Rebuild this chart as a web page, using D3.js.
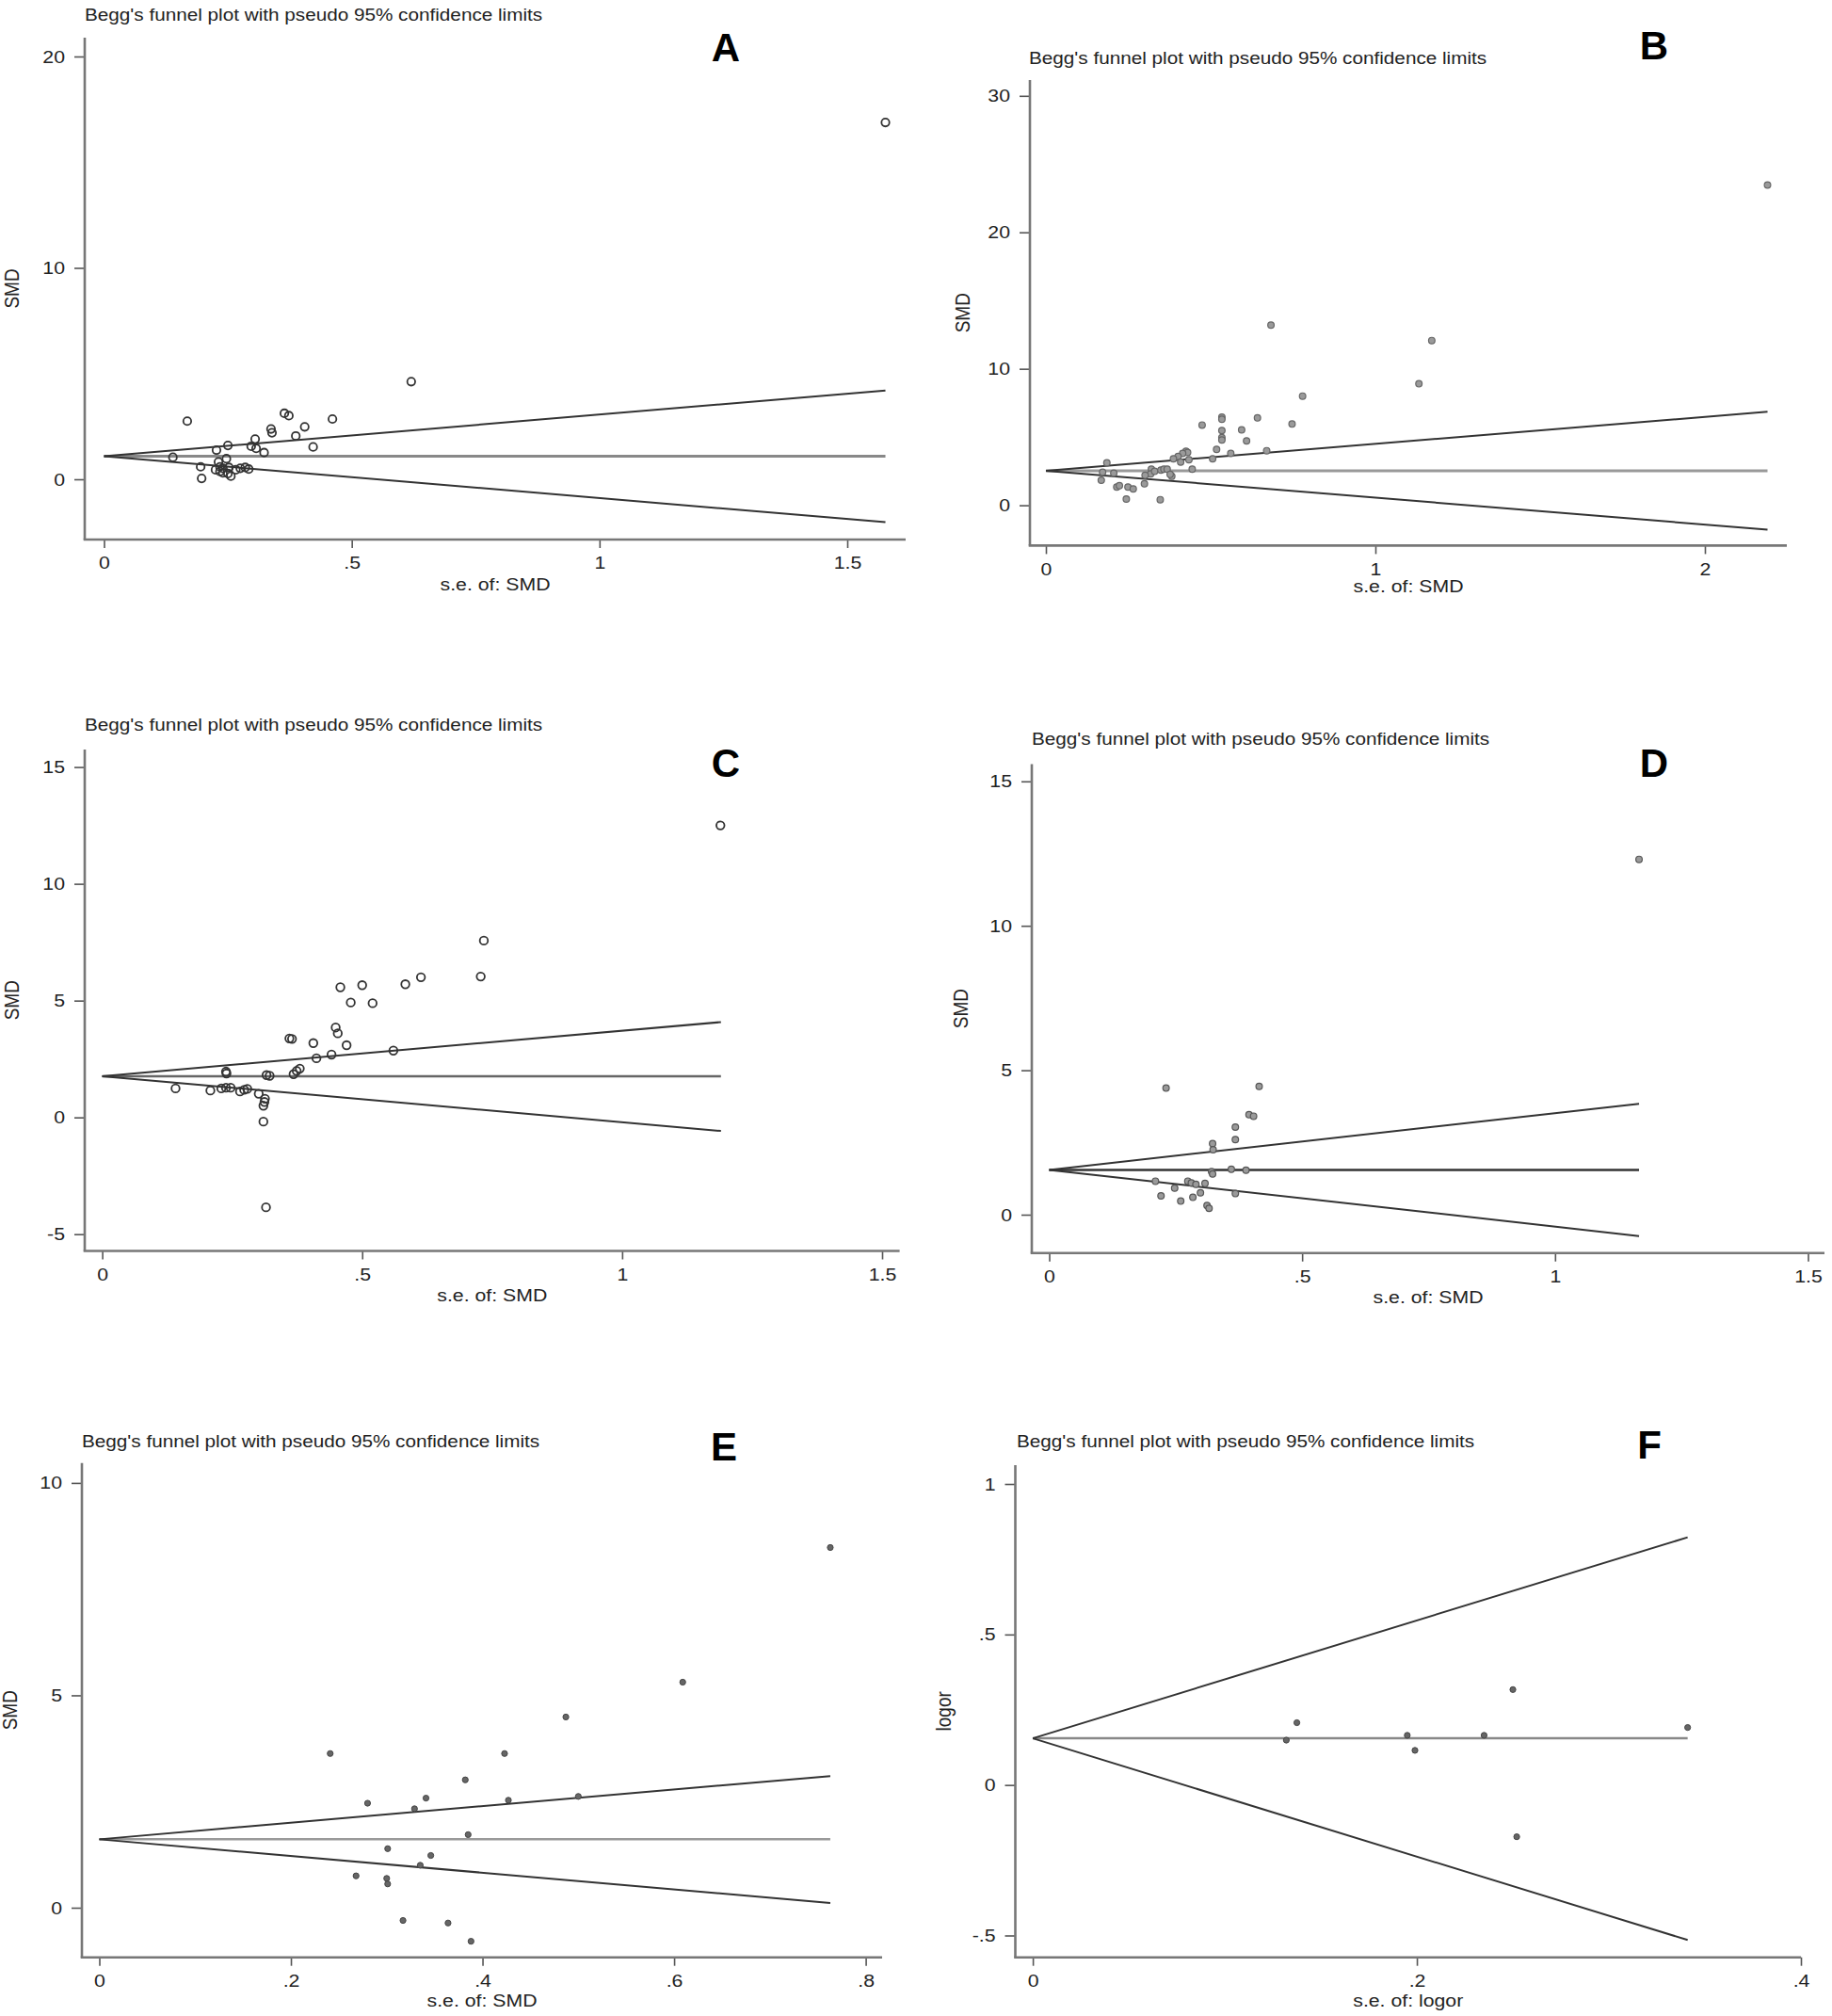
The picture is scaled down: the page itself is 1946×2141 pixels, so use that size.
<!DOCTYPE html>
<html><head><meta charset="utf-8">
<script src="https://cdn.jsdelivr.net/npm/d3@7"></script>
<style>
body{margin:0;background:#fff}
svg text{font-family:"Liberation Sans",Arial,Helvetica,sans-serif;fill:#222}
</style></head><body>
<svg id="c" width="1946" height="2141"></svg>
<script>
// ---------------- DATA ----------------
const panelLetters = ["A","B","C","D","E","F"];
const titleText = "Begg's funnel plot with pseudo 95% confidence limits";
const xTitles = ["s.e. of: SMD","s.e. of: SMD","s.e. of: SMD","s.e. of: SMD","s.e. of: SMD","s.e. of: logor"];
const yTitles = ["SMD","SMD","SMD","SMD","SMD","logor"];

// [s.e., estimate]
const pointsA = [[0.168,2.75],[0.62,4.62],[1.577,16.88],[0.364,3.12],[0.373,3.01],[0.461,2.85],[0.405,2.48],[0.337,2.38],[0.339,2.2],[0.387,2.05],[0.305,1.9],[0.422,1.53],[0.25,1.6],[0.227,1.38],[0.297,1.56],[0.307,1.46],[0.323,1.26],[0.139,1.04],[0.195,0.59],[0.197,0.04],[0.231,0.82],[0.234,0.59],[0.234,0.37],[0.24,0.3],[0.25,0.27],[0.247,0.97],[0.256,0.15],[0.266,0.45],[0.275,0.52],[0.285,0.56],[0.292,0.48],[0.225,0.45],[0.24,0.52],[0.252,0.56]];
const pointsB = [[2.19,23.47],[0.683,13.2],[1.171,12.07],[1.132,8.9],[0.779,8.0],[0.534,6.45],[0.534,6.3],[0.642,6.4],[0.474,5.88],[0.747,5.95],[0.534,5.48],[0.594,5.53],[0.534,4.95],[0.534,4.79],[0.609,4.72],[0.518,4.1],[0.561,3.8],[0.67,4.0],[0.506,3.41],[0.425,3.96],[0.43,3.87],[0.415,3.8],[0.401,3.57],[0.387,3.41],[0.409,3.16],[0.434,3.34],[0.444,2.65],[0.185,3.11],[0.168,1.84],[0.215,1.34],[0.223,1.43],[0.249,1.34],[0.265,1.2],[0.244,0.46],[0.299,1.57],[0.347,0.41],[0.32,2.65],[0.318,2.3],[0.33,2.49],[0.349,2.58],[0.358,2.65],[0.368,2.65],[0.382,2.12],[0.377,2.26],[0.301,2.19],[0.206,2.35],[0.172,2.42]];
const pointsC = [[1.189,12.5],[0.734,7.57],[0.728,6.03],[0.613,6.0],[0.583,5.7],[0.5,5.66],[0.458,5.57],[0.478,4.92],[0.52,4.89],[0.36,3.38],[0.365,3.36],[0.406,3.18],[0.449,3.85],[0.453,3.6],[0.47,3.09],[0.56,2.86],[0.441,2.69],[0.412,2.53],[0.38,2.09],[0.374,1.99],[0.368,1.85],[0.238,1.96],[0.239,1.88],[0.316,1.81],[0.322,1.78],[0.141,1.24],[0.208,1.15],[0.229,1.24],[0.238,1.27],[0.247,1.27],[0.265,1.11],[0.273,1.18],[0.279,1.22],[0.301,1.01],[0.313,0.8],[0.312,0.66],[0.31,0.5],[0.31,-0.18],[0.315,-3.85]];
const pointsD = [[1.166,12.3],[0.231,4.38],[0.415,4.44],[0.395,3.46],[0.404,3.41],[0.368,3.03],[0.368,2.6],[0.323,2.46],[0.324,2.25],[0.321,1.49],[0.323,1.41],[0.36,1.57],[0.389,1.54],[0.21,1.16],[0.221,0.65],[0.248,0.92],[0.26,0.47],[0.274,1.16],[0.281,1.1],[0.29,1.05],[0.308,1.08],[0.299,0.76],[0.284,0.6],[0.312,0.32],[0.316,0.22],[0.368,0.73]];
const pointsE = [[0.763,8.48],[0.609,5.31],[0.487,4.49],[0.241,3.63],[0.423,3.63],[0.382,3.01],[0.28,2.46],[0.341,2.58],[0.329,2.33],[0.427,2.53],[0.5,2.62],[0.385,1.72],[0.301,1.39],[0.346,1.23],[0.335,1.0],[0.268,0.75],[0.3,0.69],[0.301,0.56],[0.317,-0.3],[0.364,-0.36],[0.388,-0.79]];
const pointsF = [[0.132,0.149],[0.1375,0.207],[0.195,0.165],[0.199,0.115],[0.235,0.165],[0.25,0.317],[0.252,-0.172],[0.341,0.191]];

// pooled estimate, largest s.e., and the pseudo 95% limits read at that s.e.
const pooled   = [1.09, 2.53, 1.76, 1.55, 1.61, 0.155];
const seMax    = [1.577, 2.19, 1.19, 1.166, 0.763, 0.341];
const upperEnd = [4.2, 6.85, 4.08, 3.84, 3.1, 0.823];
const lowerEnd = [-2.03, -1.79, -0.58, -0.74, 0.11, -0.515];

const xTicksA=[0,0.5,1,1.5],   xLabelsA=["0",".5","1","1.5"], yTicksA=[0,10,20],       yLabelsA=["0","10","20"];
const xTicksB=[0,1,2],         xLabelsB=["0","1","2"],        yTicksB=[0,10,20,30],    yLabelsB=["0","10","20","30"];
const xTicksC=[0,0.5,1,1.5],   xLabelsC=["0",".5","1","1.5"], yTicksC=[-5,0,5,10,15],  yLabelsC=["-5","0","5","10","15"];
const xTicksD=[0,0.5,1,1.5],   xLabelsD=["0",".5","1","1.5"], yTicksD=[0,5,10,15],     yLabelsD=["0","5","10","15"];
const xTicksE=[0,0.2,0.4,0.6,0.8], xLabelsE=["0",".2",".4",".6",".8"], yTicksE=[0,5,10], yLabelsE=["0","5","10"];
const xTicksF=[0,0.2,0.4],     xLabelsF=["0",".2",".4"],      yTicksF=[-0.5,0,0.5,1],  yLabelsF=["-.5","0",".5","1"];

// ---------------- LAYOUT ----------------
const layouts = [
 {xd:[0,1.5], xr:[110.5,900],  yd:[0,20], yr:[509,60],       axL:90,   axR:962,  axT:40,    axB:573,   tX:90,   tY:15,    lX:771,   lY:50,   ytX:13,   xtY:620},
 {xd:[0,2],   xr:[1111,1811],  yd:[0,30], yr:[536.6,101.8],  axL:1094, axR:1898, axT:85,    axB:579.4, tX:1093, tY:61,    lX:1757,  lY:48,   ytX:1023, xtY:622},
 {xd:[0,1.5], xr:[108.6,937],  yd:[-5,15],yr:[1310.7,814.6], axL:90,   axR:955.6,axT:796,   axB:1328.5,tX:90,   tY:769.5, lX:771,   lY:810,  ytX:13,   xtY:1375},
 {xd:[0,1.5], xr:[1114.5,1920.5],yd:[0,15],yr:[1290,829.8],  axL:1096, axR:1938, axT:811.6, axB:1330.7,tX:1096, tY:784.7, lX:1757,  lY:810,  ytX:1021, xtY:1377.5},
 {xd:[0,0.8], xr:[105.5,919.6],yd:[0,10], yr:[2026,1574.9],  axL:87,   axR:937,  axT:1553.8,axB:2078.7,tX:87,   tY:1530,  lX:769,   lY:1536, ytX:11,   xtY:2124},
 {xd:[0,0.4], xr:[1097.1,1913],yd:[-0.5,1],yr:[2055.5,1576], axL:1078.5,axR:1913,axT:1555.9,axB:2078.7,tX:1080, tY:1530,  lX:1752,  lY:1534, ytX:1003, xtY:2124}
];
const styles = [
 {r:4.2, fill:"none", stroke:"#333", sw:1.8, center:"#888", cw:3},
 {r:3.4, fill:"#9a9a9a", stroke:"#666", sw:1.2, center:"#999", cw:3},
 {r:4.3, fill:"none", stroke:"#333", sw:1.8, center:"#666", cw:2.5},
 {r:3.4, fill:"#9a9a9a", stroke:"#555", sw:1.2, center:"#333", cw:2.5},
 {r:3.1, fill:"#666", stroke:"#444", sw:1, center:"#999", cw:2.5},
 {r:3.1, fill:"#666", stroke:"#444", sw:1, center:"#888", cw:2.5}
];
const allPoints = [pointsA,pointsB,pointsC,pointsD,pointsE,pointsF];
const allXT = [[xTicksA,xLabelsA],[xTicksB,xLabelsB],[xTicksC,xLabelsC],[xTicksD,xLabelsD],[xTicksE,xLabelsE],[xTicksF,xLabelsF]];
const allYT = [[yTicksA,yLabelsA],[yTicksB,yLabelsB],[yTicksC,yLabelsC],[yTicksD,yLabelsD],[yTicksE,yLabelsE],[yTicksF,yLabelsF]];

const S = 1.12; // horizontal stretch of the original artwork's text
const svg = d3.select("#c");

function stretchText(sel){
  sel.each(function(){
    const t=d3.select(this);
    const xx=+(t.attr("x")||0);
    t.attr("x", xx/S).attr("transform",`scale(${S},1)`);
  });
}

layouts.forEach((p,i)=>{
  const st = styles[i];
  const g = svg.append("g");
  const x = d3.scaleLinear().domain(p.xd).range(p.xr);
  const y = d3.scaleLinear().domain(p.yd).range(p.yr);

  // title
  g.append("text").text(titleText)
    .attr("transform",`translate(${p.tX},${p.tY+6.5}) scale(${S},1)`)
    .attr("font-size",18.5);

  // panel letter
  g.append("text").text(panelLetters[i])
    .attr("x",p.lX).attr("y",p.lY+15).attr("text-anchor","middle")
    .attr("font-size",42).attr("font-weight","bold").style("fill","#000");

  // y axis
  const [yt,yl] = allYT[i];
  const ya = g.append("g").attr("transform",`translate(${p.axL},0)`)
    .call(d3.axisLeft(y).tickValues(yt).tickFormat((d,k)=>yl[k]).tickSize(11).tickPadding(10));
  ya.select(".domain").remove();
  ya.attr("font-size",19).attr("font-family",null);
  ya.selectAll(".tick line").attr("stroke","#555").attr("stroke-width",1.6);
  stretchText(ya.selectAll("text"));

  // x axis
  const [xt,xl] = allXT[i];
  const xa = g.append("g").attr("transform",`translate(0,${p.axB})`)
    .call(d3.axisBottom(x).tickValues(xt).tickFormat((d,k)=>xl[k]).tickSize(9).tickPadding(9));
  xa.select(".domain").remove();
  xa.attr("font-size",19).attr("font-family",null);
  xa.selectAll(".tick line").attr("stroke","#555").attr("stroke-width",1.6);
  stretchText(xa.selectAll("text"));

  // axis lines
  g.append("line").attr("x1",p.axL).attr("x2",p.axL).attr("y1",p.axT).attr("y2",p.axB)
    .attr("stroke","#777").attr("stroke-width",2.6);
  g.append("line").attr("x1",p.axL-1.3).attr("x2",p.axR).attr("y1",p.axB).attr("y2",p.axB)
    .attr("stroke","#777").attr("stroke-width",2.6);

  // axis titles
  g.append("text").text(xTitles[i])
    .attr("transform",`translate(${(p.axL+p.axR)/2},${p.xtY+6.5}) scale(${S},1)`)
    .attr("text-anchor","middle").attr("font-size",19);
  g.append("text").text(yTitles[i])
    .attr("transform",`translate(${p.ytX+6.5},${(p.axT+p.axB)/2}) scale(${S},1) rotate(-90)`)
    .attr("text-anchor","middle").attr("font-size",19);

  // funnel lines
  const th = pooled[i], sm = seMax[i];
  g.append("line").attr("x1",x(0)).attr("y1",y(th)).attr("x2",x(sm)).attr("y2",y(th))
    .attr("stroke",st.center).attr("stroke-width",st.cw);
  [upperEnd[i], lowerEnd[i]].forEach(v=>{
    g.append("line").attr("x1",x(0)).attr("y1",y(th)).attr("x2",x(sm)).attr("y2",y(v))
      .attr("stroke","#333").attr("stroke-width",2);
  });

  // points
  g.append("g").selectAll("circle").data(allPoints[i]).join("circle")
    .attr("cx",d=>x(d[0])).attr("cy",d=>y(d[1])).attr("r",st.r)
    .attr("fill",st.fill).attr("stroke",st.stroke).attr("stroke-width",st.sw);
});
</script>
</body></html>
